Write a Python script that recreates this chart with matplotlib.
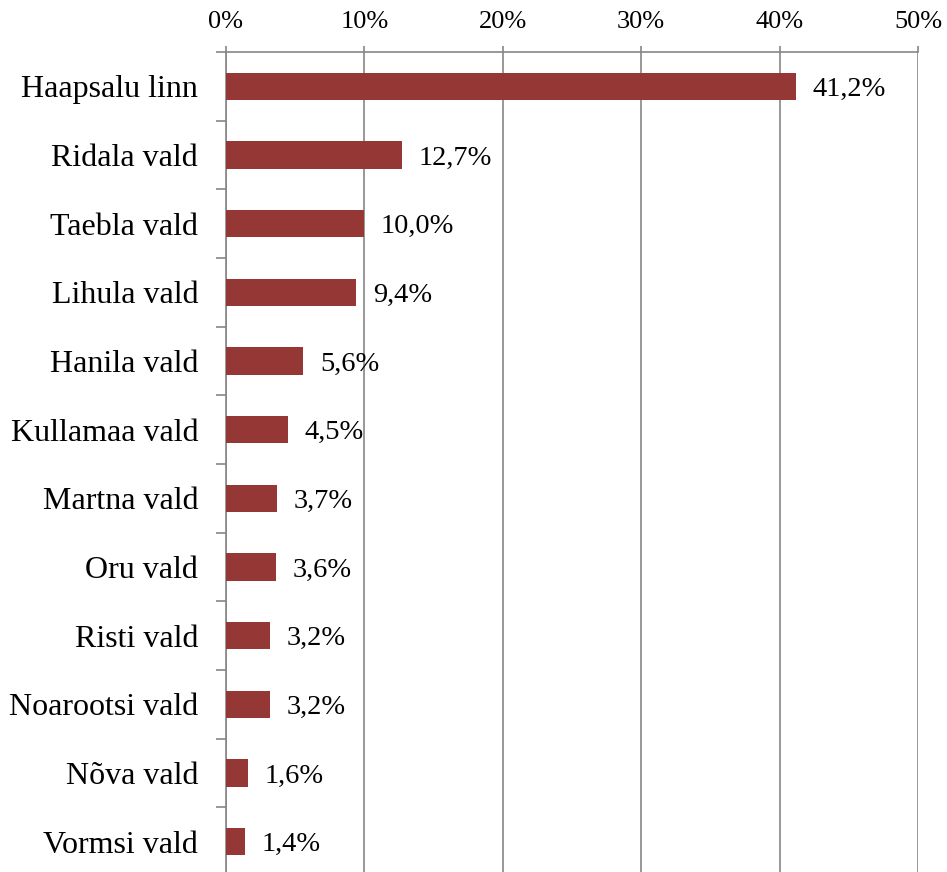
"""Share by municipality, horizontal bar chart."""

import matplotlib
matplotlib.use("Agg")
import matplotlib.pyplot as plt
from matplotlib.ticker import FixedLocator

categories = [
    "Haapsalu linn", "Ridala vald", "Taebla vald", "Lihula vald",
    "Hanila vald", "Kullamaa vald", "Martna vald", "Oru vald",
    "Risti vald", "Noarootsi vald", "Nõva vald", "Vormsi vald",
]
values = [41.2, 12.7, 10.0, 9.4, 5.6, 4.5, 3.7, 3.6, 3.2, 3.2, 1.6, 1.4]
x_ticks = [0, 10, 20, 30, 40, 50]

plt.rcParams["font.family"] = ["Liberation Serif", "DejaVu Serif"]

bar_color = "#953735"
grid_color = "#868686"

fig = plt.figure(figsize=(9.47, 8.72), dpi=100)
ax = fig.add_axes([0.2386, -0.0046, 0.7308, 0.945])

n = len(categories)
pos = list(range(n))
ax.barh(pos, values, height=0.4, color=bar_color, zorder=3)

for p, v in zip(pos, values):
    ax.annotate(f"{v:.1f}%".replace(".", ","), xy=(v, p), xytext=(12, 0),
                textcoords="offset points", va="center_baseline", ha="left",
                fontsize=20.5, zorder=4)

ax.set_xlim(0, 50)
ax.set_ylim(n - 0.5, -0.5)

ax.xaxis.tick_top()
ax.set_xticks(x_ticks)
ax.set_xticklabels([f"{t}%" for t in x_ticks], fontsize=19)
ax.tick_params(axis="x", length=4.3, width=1.2, color=grid_color, pad=9)

ax.set_yticks(pos)
ax.set_yticklabels(categories, fontsize=23)
ax.tick_params(axis="y", which="major", length=0, pad=20)
ax.yaxis.set_minor_locator(FixedLocator([i - 0.5 for i in range(n + 1)]))
ax.tick_params(axis="y", which="minor", length=7.2, width=1.2, color=grid_color)

ax.grid(axis="x", color=grid_color, linewidth=1.2, zorder=0)
for side in ["right", "bottom"]:
    ax.spines[side].set_visible(False)
for side in ["top", "left"]:
    ax.spines[side].set_color(grid_color)
    ax.spines[side].set_linewidth(1.2)

fig.savefig("out.png", dpi=100)
